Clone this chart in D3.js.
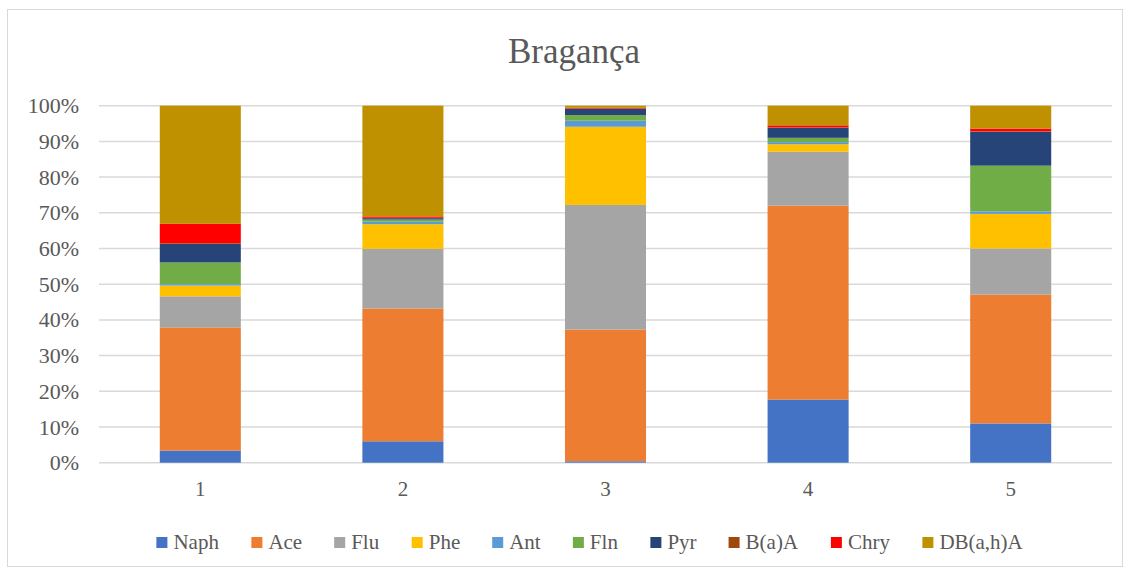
<!DOCTYPE html>
<html>
<head>
<meta charset="utf-8">
<script src="https://cdn.jsdelivr.net/npm/d3@7/dist/d3.min.js"></script>
<style>
  html, body { margin: 0; padding: 0; background: #fff; }
  svg { display: block; }
  text { font-family: "Liberation Serif", "DejaVu Serif", serif; fill: #595959; }
</style>
</head>
<body>
<svg id="chart" width="1131" height="574"></svg>
<script>
// Sites and compound shares (percent of total per site)
const categories = ["1", "2", "3", "4", "5"];
const seriesNames = ["Naph", "Ace", "Flu", "Phe", "Ant", "Fln", "Pyr", "B(a)A", "Chry", "DB(a,h)A"];
const seriesColors = ["#4472c4", "#ed7d31", "#a5a5a5", "#ffc000", "#5b9bd5", "#70ad47", "#264478", "#9e480e", "#ff0000", "#bf9000"];

const naph = [3.4, 6.0, 0.4, 17.7, 11.0];
const ace  = [34.5, 37.2, 36.9, 54.3, 36.1];
const flu  = [8.7, 16.7, 34.9, 15.1, 12.9];
const phe  = [3.0, 6.9, 21.9, 2.1, 9.7];
const ant  = [0.4, 0.7, 1.7, 0.6, 0.7];
const fln  = [6.1, 0.6, 1.6, 1.2, 12.8];
const pyr  = [5.2, 0.4, 1.7, 2.8, 9.5];
const baa  = [0.2, 0.1, 0.1, 0.1, 0.1];
const chry = [5.4, 0.4, 0.2, 0.6, 0.8];
const dbah = [33.1, 31.0, 0.6, 5.5, 6.4];

const yTicks = [0, 10, 20, 30, 40, 50, 60, 70, 80, 90, 100];
const titleText = "Bragança";

const seriesValues = [naph, ace, flu, phe, ant, fln, pyr, baa, chry, dbah];
const rows = categories.map((c, i) => {
  const r = { cat: c };
  seriesNames.forEach((s, k) => { r[s] = seriesValues[k][i]; });
  return r;
});

const svg = d3.select("#chart");
const plot = { left: 99, right: 1112, top: 105.7, bottom: 462.7 };

// chart frame
svg.append("rect")
  .attr("x", 7.5).attr("y", 9.5)
  .attr("width", 1115).attr("height", 557)
  .attr("fill", "#fff").attr("stroke", "#d9d9d9").attr("stroke-width", 1);

const x = d3.scaleBand().domain(categories).range([plot.left, plot.right]).paddingInner(0.6).paddingOuter(0.3);
const y = d3.scaleLinear().domain([0, 100]).range([plot.bottom, plot.top]);

// gridlines
svg.append("g").selectAll("line").data(yTicks).join("line")
  .attr("x1", plot.left).attr("x2", plot.right)
  .attr("y1", d => y(d)).attr("y2", d => y(d))
  .attr("stroke", "#d9d9d9").attr("stroke-width", 1.5);

// stacked bars
const stack = d3.stack().keys(seriesNames)(rows);
const color = d3.scaleOrdinal().domain(seriesNames).range(seriesColors);
svg.append("g").selectAll("g").data(stack).join("g")
  .attr("fill", d => color(d.key))
  .selectAll("rect").data(d => d).join("rect")
  .attr("x", d => x(d.data.cat))
  .attr("width", x.bandwidth())
  .attr("y", d => y(d[1]))
  .attr("height", d => Math.max(0, y(d[0]) - y(d[1])));

// y axis labels
const yAxis = d3.axisLeft(y).tickValues(yTicks).tickFormat(d => d + "%").tickSize(0).tickPadding(0);
const gy = svg.append("g").attr("transform", `translate(79,0)`).call(yAxis);
gy.select(".domain").remove();
gy.selectAll("text").attr("font-size", 22).attr("font-family", "Liberation Serif").attr("fill", "#595959");

// x axis labels
const xAxis = d3.axisBottom(x).tickSize(0).tickPadding(0);
const gx = svg.append("g").attr("transform", `translate(0,${plot.bottom + 18})`).call(xAxis);
gx.select(".domain").remove();
gx.selectAll("text").attr("font-size", 21).attr("font-family", "Liberation Serif").attr("fill", "#595959");

// title
svg.append("text").attr("x", 574).attr("y", 63).attr("text-anchor", "middle")
  .attr("font-size", 35).text(titleText);

// legend
const legend = svg.append("g");
const items = legend.selectAll("g").data(seriesNames).join("g");
items.append("rect").attr("width", 11).attr("height", 11).attr("y", -12)
  .attr("fill", d => color(d));
items.append("text").attr("x", 17).attr("y", 0).attr("font-size", 21).text(d => d);
const gap = 32;
let cx = 0;
items.each(function () {
  const w = this.getBBox().width;
  d3.select(this).attr("transform", `translate(${cx},0)`);
  cx += w + gap;
});
const totalW = cx - gap;
legend.attr("transform", `translate(${590 - totalW / 2},549)`);
</script>
</body>
</html>
